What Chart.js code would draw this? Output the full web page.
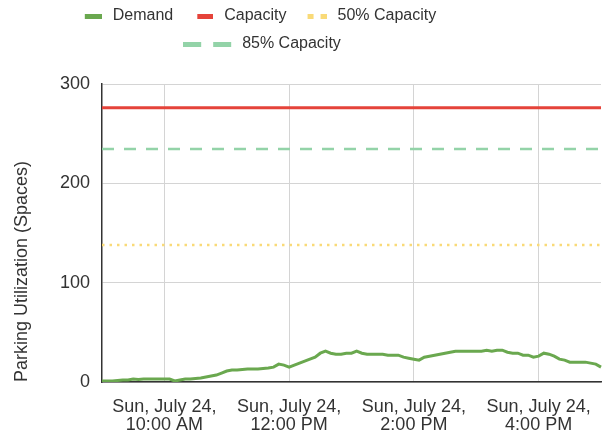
<!DOCTYPE html>
<html>
<head>
<meta charset="utf-8">
<script src="https://cdn.jsdelivr.net/npm/chart.js@4/dist/chart.umd.min.js"></script>
<style>
  html, body { margin: 0; padding: 0; background: #ffffff; }
  #wrap { width: 611px; height: 438px; position: relative; }
</style>
</head>
<body>
<div id="wrap"><canvas id="chart"></canvas></div>
<script>
// ---------- DATA ----------
// Category axis: Sun, July 24, 9:00 AM .. 5:00 PM, one reading every 5 minutes
const times = [];
for (let m = 0; m <= 480; m += 5) {
  const h24 = 9 + Math.floor(m / 60);
  const mm = String(m % 60).padStart(2, '0');
  const h12 = h24 > 12 ? h24 - 12 : h24;
  times.push(h12 + ':' + mm + (h24 >= 12 ? ' PM' : ' AM'));
}

// Parking demand (occupied spaces)
const demand = [
  1, 1, 1, 1.5, 2, 2, 3, 2.5, 3, 3,
  3, 3, 3, 3, 1, 2, 3, 3, 3.5, 4,
  5, 6, 7, 9, 11, 12, 12, 12.5, 13, 13,
  13, 13.5, 14, 15, 18, 17, 15, 17, 19, 21,
  23, 25, 29, 31, 29, 28, 28, 29, 29, 31,
  29, 28, 28, 28, 28, 27, 27, 27, 25, 24,
  23, 22, 25, 26, 27, 28, 29, 30, 31, 31,
  31, 31, 31, 31, 32, 31, 32, 32, 30, 29,
  29, 27, 27, 25, 26, 29, 28, 26, 23, 22,
  20, 20, 20, 20, 19, 18, 15
];

// Reference levels (spaces)
const capacity = 276;
const capacity85 = 234.6;
const capacity50 = 138;

// X tick labels and where they sit
const tickTimes = ['10:00 AM', '12:00 PM', '2:00 PM', '4:00 PM'];
const tickLabels = [
  ['Sun, July 24,', '10:00 AM'],
  ['Sun, July 24,', '12:00 PM'],
  ['Sun, July 24,', '2:00 PM'],
  ['Sun, July 24,', '4:00 PM']
];
const yTicks = [0, 100, 200, 300];

// ---------- STYLE ----------
const FONT = "'Liberation Sans', Arial, sans-serif";
const TEXT = '#333333';
const COLORS = {
  demand: '#6aa84f',
  capacity: '#e5433a',
  c50: '#f9da78',
  c85: '#93d3a8'
};

// Legend swatches (drawn as small canvases)
function swatch(width, segments, color) {
  const c = document.createElement('canvas');
  c.width = width; c.height = 5;
  const g = c.getContext('2d');
  g.fillStyle = color;
  segments.forEach(([a, b]) => g.fillRect(a, 0, b - a, 5));
  return c;
}
const swatches = [
  swatch(25, [[8, 25]], COLORS.demand),
  swatch(25, [[9, 25]], COLORS.capacity),
  swatch(25, [[6, 12], [19, 25]], COLORS.c50),
  swatch(71, [[0, 18], [30, 48]], COLORS.c85)
];

const first = times[0];
const last = times[times.length - 1];
const levelLine = (v) => [{ x: first, y: v }, { x: last, y: v }];

const tickIndex = tickTimes.map(t => times.indexOf(t));

const legendPlacement = {
  id: 'legendPlacement',
  afterLayout(chart) {
    const lg = chart.legend;
    if (!lg) return;
    const h = lg.bottom - lg.top;
    lg.top = -4; lg.bottom = lg.top + h;
    lg.left = 0; lg.right = 510;
    if (lg.lineWidths && lg.lineWidths.length > 1) lg.lineWidths[1] -= 34;
  }
};

new Chart(document.getElementById('chart'), {
  type: 'line',
  data: {
    labels: times,
    datasets: [
      { label: 'Demand', data: demand, borderColor: COLORS.demand, backgroundColor: COLORS.demand,
        borderWidth: 3, pointRadius: 0, tension: 0 },
      { label: 'Capacity', data: levelLine(capacity), borderColor: COLORS.capacity, backgroundColor: COLORS.capacity,
        borderWidth: 3, pointRadius: 0 },
      { label: '50% Capacity', data: levelLine(capacity50), borderColor: COLORS.c50, backgroundColor: COLORS.c50,
        borderWidth: 2.5, borderDash: [2.5, 5], pointRadius: 0 },
      { label: '85% Capacity', data: levelLine(capacity85), borderColor: COLORS.c85, backgroundColor: COLORS.c85,
        borderWidth: 2.5, borderDash: [12, 10], pointRadius: 0 }
    ]
  },
  options: {
    responsive: true,
    maintainAspectRatio: false,
    animation: false,
    events: [],
    layout: { padding: { top: 18, left: 7, right: 10, bottom: 6 } },
    plugins: {
      tooltip: { enabled: false },
      legend: {
        position: 'top',
        fullSize: false,
        labels: {
          usePointStyle: true,
          pointStyleWidth: 31,
          boxHeight: 5,
          padding: 12,
          color: TEXT,
          font: { family: FONT, size: 16 },
          generateLabels(chart) {
            const items = Chart.defaults.plugins.legend.labels.generateLabels(chart);
            items.forEach((it, i) => { it.pointStyle = swatches[i]; });
            return items;
          }
        }
      }
    },
    scales: {
      x: {
        type: 'category',
        offset: false,
        grid: { color: '#d4d4d4', lineWidth: 1, drawTicks: false },
        border: { color: '#333333', width: 1.5 },
        afterBuildTicks(scale) {
          scale.ticks = scale.ticks.filter(t => tickIndex.includes(t.value));
        },
        afterFit(scale) { scale.height = 50; },
        ticks: {
          autoSkip: false,
          maxRotation: 0,
          minRotation: 0,
          padding: 16,
          color: TEXT,
          font: { family: FONT, size: 18, lineHeight: 1.0 },
          callback(value) {
            const k = tickIndex.indexOf(value);
            return k >= 0 ? tickLabels[k] : '';
          }
        }
      },
      y: {
        min: 0,
        max: 300,
        afterBuildTicks(scale) { scale.ticks = yTicks.map(v => ({ value: v })); },
        afterFit(scale) { scale.width = 95; },
        grid: { color: '#d4d4d4', lineWidth: 1, drawTicks: false },
        border: { color: '#333333', width: 1.5 },
        ticks: {
          padding: 12,
          color: TEXT,
          font: { family: FONT, size: 18 }
        },
        title: {
          display: true,
          align: 'start',
          text: 'Parking Utilization (Spaces)',
          color: TEXT,
          font: { family: FONT, size: 18 },
          padding: { top: 4, bottom: 4 }
        }
      }
    }
  },
  plugins: [legendPlacement]
});
</script>
</body>
</html>
